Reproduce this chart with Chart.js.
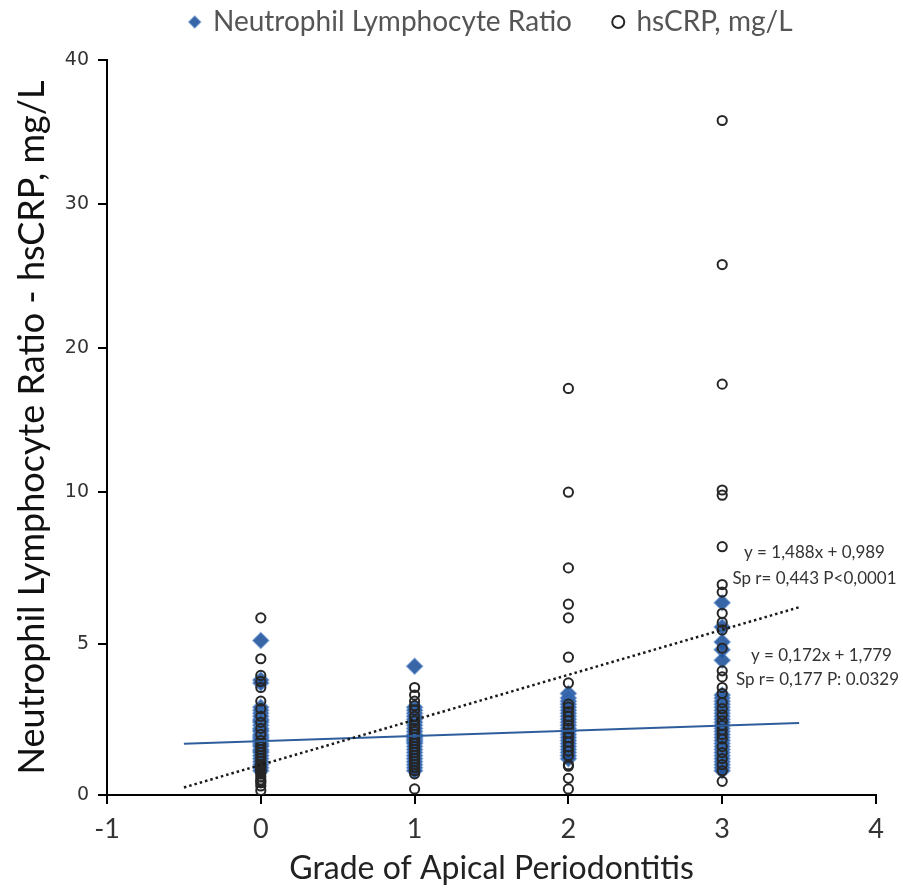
<!DOCTYPE html>
<html>
<head>
<meta charset="utf-8">
<script src="https://cdn.jsdelivr.net/npm/chart.js@4/dist/chart.umd.min.js"></script>
<style>
  html, body { margin: 0; padding: 0; background: #ffffff; }
  #wrap { width: 903px; height: 888px; }
</style>
</head>
<body>
<div id="wrap"><canvas id="c" width="903" height="888"></canvas></div>
<script>
// ---------------- data ----------------
const grades = [0, 1, 2, 3];
const yTickValues = [0, 5, 10, 20, 30, 40];

// Neutrophil Lymphocyte Ratio, by grade
const nlrGrade0 = [5.1, 3.8, 3.7, 2.9, 2.8, 2.7, 2.6, 2.5, 2.45, 2.4, 2.3, 2.2, 2.15, 2.1, 2.0, 1.95, 1.9, 1.85, 1.8, 1.7, 1.65, 1.6, 1.5, 1.45, 1.4, 1.3, 1.2, 1.1, 1.0, 0.9, 0.8];
const nlrGrade1 = [4.25, 2.9, 2.8, 2.7, 2.6, 2.5, 2.4, 2.3, 2.2, 2.1, 2.0, 1.95, 1.9, 1.85, 1.8, 1.75, 1.7, 1.6, 1.5, 1.4, 1.3, 1.2, 1.1, 1.0, 0.9, 0.8];
const nlrGrade2 = [3.35, 3.2, 3.1, 3.0, 2.9, 2.8, 2.7, 2.6, 2.5, 2.4, 2.3, 2.2, 2.1, 2.0, 1.9, 1.8, 1.7, 1.6, 1.5, 1.4, 1.3, 1.2];
const nlrGrade3 = [6.35, 5.55, 5.05, 4.8, 4.45, 3.3, 3.2, 3.1, 3.0, 2.9, 2.8, 2.7, 2.6, 2.5, 2.4, 2.3, 2.2, 2.1, 2.0, 1.9, 1.8, 1.7, 1.6, 1.5, 1.4, 1.3, 1.2, 1.1, 1.0, 0.9, 0.8];

// hsCRP, mg/L, by grade
const crpGrade0 = [5.85, 4.5, 3.95, 3.75, 3.55, 3.1, 2.85, 2.6, 2.4, 2.2, 2.0, 1.8, 1.7, 1.6, 1.5, 1.4, 1.3, 1.2, 1.1, 1.0, 0.95, 0.9, 0.85, 0.8, 0.75, 0.7, 0.6, 0.5, 0.45, 0.4, 0.3, 0.15];
const crpGrade1 = [3.55, 3.3, 3.1, 2.95, 2.8, 2.6, 2.45, 2.3, 2.2, 2.1, 2.0, 1.9, 1.8, 1.7, 1.6, 1.5, 1.4, 1.3, 1.2, 1.1, 1.0, 0.9, 0.8, 0.7, 0.2];
const crpGrade2 = [17.2, 10.0, 7.5, 6.3, 5.85, 4.55, 3.7, 3.0, 2.9, 2.75, 2.6, 2.45, 2.3, 2.2, 2.05, 1.9, 1.75, 1.6, 1.45, 1.3, 1.0, 0.95, 0.55, 0.2];
const crpGrade3 = [35.8, 25.8, 17.5, 10.15, 9.9, 8.2, 6.95, 6.7, 6.0, 5.7, 5.45, 4.85, 4.1, 3.9, 3.55, 3.35, 3.05, 2.85, 2.65, 2.45, 2.3, 2.15, 2.0, 1.85, 1.6, 1.4, 1.2, 1.0, 0.8, 0.45];

// linear trend lines (end points)
const trendX = [-0.5, 3.5];
const nlrTrendY = [1.69, 2.38];
const crpTrendY = [0.25, 6.2];

// annotation texts
const crpFitText = ['y = 1,488x + 0,989', 'Sp r= 0,443 P<0,0001'];
const nlrFitText = ['y = 0,172x + 1,779', 'Sp r= 0,177 P: 0.0329'];

// ---------------- helpers ----------------
const nlrByGrade = [nlrGrade0, nlrGrade1, nlrGrade2, nlrGrade3];
const crpByGrade = [crpGrade0, crpGrade1, crpGrade2, crpGrade3];
function toPoints(byGrade) {
  const out = [];
  grades.forEach((g, i) => byGrade[i].forEach(v => out.push({ x: g, y: v })));
  return out;
}
function linePoints(xs, ys) { return xs.map((x, i) => ({ x: x, y: ys[i] })); }

// piecewise linear (broken) value axis: 0-10 stretched, 10-40 compressed
const Y_BREAKS = [0, 10, 40];
const Y_SHARE = [0, 0.412, 1];
class BrokenLinearScale extends Chart.LinearScale {
  buildTicks() { return yTickValues.map(v => ({ value: v })); }
  getPixelForValue(value) {
    if (value === null || value === undefined || isNaN(value)) return NaN;
    let i = 0;
    while (i < Y_BREAKS.length - 2 && value > Y_BREAKS[i + 1]) i++;
    const f = Y_SHARE[i] + (value - Y_BREAKS[i]) / (Y_BREAKS[i + 1] - Y_BREAKS[i]) * (Y_SHARE[i + 1] - Y_SHARE[i]);
    return this.getPixelForDecimal(f);
  }
  getValueForPixel(pixel) {
    const f = this.getDecimalForPixel(pixel);
    let i = 0;
    while (i < Y_SHARE.length - 2 && f > Y_SHARE[i + 1]) i++;
    return Y_BREAKS[i] + (f - Y_SHARE[i]) / (Y_SHARE[i + 1] - Y_SHARE[i]) * (Y_BREAKS[i + 1] - Y_BREAKS[i]);
  }
}
BrokenLinearScale.id = 'brokenLinear';
BrokenLinearScale.defaults = Chart.LinearScale.defaults;
Chart.register(BrokenLinearScale);

const FONT_MAIN = 'Lato, "Open Sans", sans-serif';

// legend box height fix (keeps wide item gap but compact vertical space)
const legendHeightPlugin = {
  id: 'legendHeight',
  beforeLayout(chart) {
    const lg = chart.legend;
    if (lg && !lg._patched) {
      const orig = lg.fit.bind(lg);
      lg.fit = function () { orig(); this.height = 94; };
      lg._patched = true;
    }
  }
};

// regression annotations, anchored on data coordinates
const fitTextPlugin = {
  id: 'fitText',
  afterDatasetsDraw(chart) {
    const { ctx, scales: { x, y } } = chart;
    ctx.save();
    ctx.font = '17px ' + FONT_MAIN;
    ctx.fillStyle = '#333333';
    ctx.textAlign = 'center';
    ctx.textBaseline = 'middle';
    const cx = x.getPixelForValue(3.6);
    ctx.fillText(crpFitText[0], cx, y.getPixelForValue(8.0));
    ctx.fillText(crpFitText[1], cx, y.getPixelForValue(7.15));
    ctx.fillText(nlrFitText[0], cx + 7, y.getPixelForValue(4.6));
    ctx.fillText(nlrFitText[1], cx + 3, y.getPixelForValue(3.8));
    ctx.restore();
  }
};

new Chart(document.getElementById('c'), {
  type: 'scatter',
  data: {
    datasets: [
      {
        label: 'Neutrophil Lymphocyte Ratio',
        data: toPoints(nlrByGrade),
        pointStyle: 'rectRot',
        pointRadius: 8,
        pointHoverRadius: 8,
        backgroundColor: 'rgba(33, 84, 156, 0.9)',
        borderColor: 'rgba(80, 130, 200, 0.5)',
        borderWidth: 1.5,
        order: 4
      },
      {
        label: 'hsCRP, mg/L',
        data: toPoints(crpByGrade),
        pointStyle: 'circle',
        pointRadius: 4.6,
        pointHoverRadius: 4.6,
        backgroundColor: 'rgba(0,0,0,0)',
        borderColor: '#262626',
        borderWidth: 2,
        order: 3
      },
      {
        label: 'NLR trend',
        data: linePoints(trendX, nlrTrendY),
        showLine: true,
        pointRadius: 0,
        borderColor: '#2e5d9c',
        borderWidth: 2,
        fill: false,
        order: 2
      },
      {
        label: 'hsCRP trend',
        data: linePoints(trendX, crpTrendY),
        showLine: true,
        pointRadius: 0,
        borderColor: '#1a1a1a',
        borderWidth: 2.5,
        borderDash: [2.5, 3],
        fill: false,
        order: 1
      }
    ]
  },
  options: {
    responsive: false,
    animation: false,
    layout: { padding: { top: -34, right: 27, bottom: 0, left: 0 } },
    plugins: {
      tooltip: { enabled: false },
      legend: {
        position: 'top',
        fullSize: false,
        labels: {
          usePointStyle: true,
          boxWidth: 8.5,
          boxHeight: 8.5,
          padding: 42,
          color: '#555555',
          font: { family: FONT_MAIN, size: 28 },
          filter: item => item.datasetIndex < 2,
          sort: (a, b) => a.datasetIndex - b.datasetIndex
        }
      }
    },
    scales: {
      x: {
        type: 'linear',
        min: -1,
        max: 4,
        afterFit: s => { s.height = 93; },
        ticks: { stepSize: 1, color: '#333333', padding: 9, font: { family: FONT_MAIN, size: 27 } },
        grid: { drawOnChartArea: false, drawTicks: true, tickLength: 9, color: '#000000', lineWidth: 2 },
        border: { display: true, color: '#000000', width: 2 },
        title: { display: true, text: 'Grade of Apical Periodontitis', color: '#222222', font: { family: FONT_MAIN, size: 32 }, padding: { top: 0, bottom: 0 } }
      },
      y: {
        type: 'brokenLinear',
        min: 0,
        max: 40,
        afterFit: s => { s.width = 107; },
        ticks: { color: '#333333', padding: 9, font: { family: '"DejaVu Sans", Verdana, sans-serif', size: 19 } },
        grid: { drawOnChartArea: false, drawTicks: true, tickLength: 9, color: '#000000', lineWidth: 2 },
        border: { display: true, color: '#000000', width: 2 },
        title: { display: true, text: 'Neutrophil Lymphocyte Ratio - hsCRP, mg/L', color: '#111111', font: { family: FONT_MAIN, size: 36 }, padding: { top: 11, bottom: 0 } }
      }
    }
  },
  plugins: [legendHeightPlugin, fitTextPlugin]
});
</script>
</body>
</html>
